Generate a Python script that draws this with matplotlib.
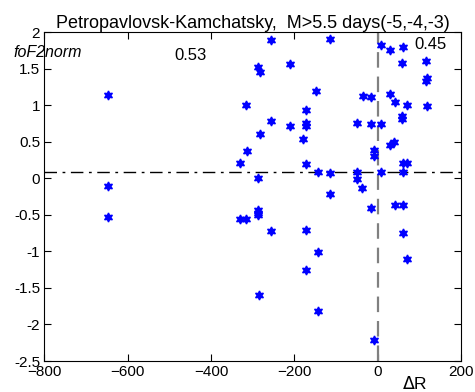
import numpy as np
import matplotlib.pyplot as plt

plt.rcParams['font.family'] = ['Liberation Sans', 'DejaVu Sans']

# delta R (km) and normalized foF2
dR = [-648, -648, -648,
      -256, -114, 7, 30, 62, 115, -287, -283, -210, 58, 118, 117,
      -148, -34, -16, 30, 42, 70, 118, -317, -173, -256, -210, -173, -173,
      -49, -16, 7, 58, 58, -283, -180, -313, 30, 40, -9, -9,
      -330, -173, -142, -114, -49, 7, 62, 70, 62, -287, -49, -38, -114,
      -16, 41, 62, -286, -286, -286, -330, -316, -256, -173, 62,
      -142, 70, -173, -285, -142, -9]
fof2 = [1.14, -0.11, -0.53,
        1.89, 1.90, 1.82, 1.76, 1.79, 1.60, 1.52, 1.46, 1.57, 1.58, 1.37, 1.33,
        1.19, 1.13, 1.11, 1.15, 1.04, 1.00, 0.99, 1.00, 0.93, 0.78, 0.71, 0.76, 0.71,
        0.76, 0.75, 0.75, 0.85, 0.81, 0.60, 0.54, 0.37, 0.46, 0.50, 0.39, 0.30,
        0.21, 0.20, 0.09, 0.07, 0.09, 0.09, 0.21, 0.21, 0.09, 0.00, -0.01, -0.13, -0.22,
        -0.41, -0.36, -0.37, -0.43, -0.47, -0.50, -0.55, -0.55, -0.72, -0.71, -0.75,
        -1.01, -1.10, -1.25, -1.59, -1.81, -2.21]
mean_level = 0.08

fig = plt.figure(figsize=(4.75, 3.92), dpi=100)
ax = fig.add_axes([0.0933, 0.079, 0.8772, 0.839])

ax.axhline(mean_level, color='black', ls=(0, (9, 4, 2, 4)), lw=1)
ax.axvline(2, color='gray', ls=(0, (7, 4)), lw=1.6)
ax.plot(dR, fof2, ls='none', marker=(6, 1, 0), ms=6.5, color='blue', mec='blue')

ax.set_xlim(-800, 200)
ax.set_ylim(-2.5, 2)
ax.set_xticks(np.arange(-800, 201, 200))
ax.set_yticks(np.arange(-2.5, 2.01, 0.5))
ax.set_yticklabels(['-2.5', '-2', '-1.5', '-1', '-0.5', '0', '0.5', '1', '1.5', '2'])
ax.tick_params(direction='in', length=5, top=True, right=True, labelsize=11, pad=3)

ax.set_title('Petropavlovsk-Kamchatsky,  M>5.5 days(-5,-4,-3)', fontsize=13, pad=3)
fig.text(0.846, 0.0, r'$\Delta$R', fontsize=12.5, ha='left', va='bottom')
fig.text(0.028, 0.866, 'foF2norm', fontsize=11.5, style='italic', ha='left', va='center')
ax.text(-450, 1.68, '0.53', fontsize=12, ha='center', va='center')
ax.text(126, 1.83, '0.45', fontsize=12, ha='center', va='center')

fig.savefig('out.png', dpi=100)
